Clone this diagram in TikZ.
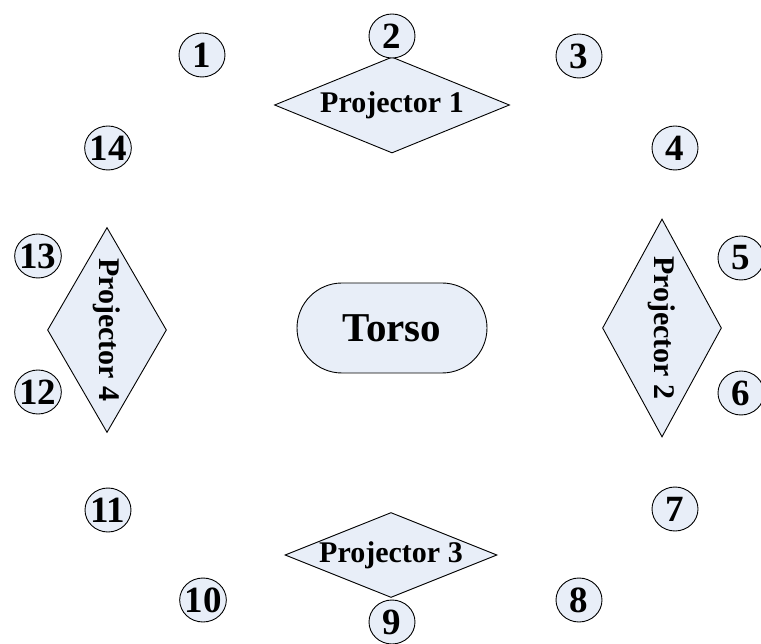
\documentclass[tikz,border=0pt]{standalone}
\usepackage{fontspec}
\setmainfont{Liberation Serif}
\usetikzlibrary{shapes.geometric}
\definecolor{rigfill}{HTML}{E8EEF8}
\tikzset{
  spotMark/.style={draw=black, fill=rigfill, ellipse, line width=0.9pt, inner ysep=0pt, inner xsep=-2pt,
    minimum width=46pt, minimum height=44pt, font=\fontsize{37}{37}\selectfont\bfseries},
  projBox/.style={draw=black, fill=rigfill, diamond, line width=0.9pt, inner sep=0pt,
    font=\fontsize{30}{30}\selectfont\bfseries},
  torsoBox/.style={draw=black, fill=rigfill, rectangle, rounded corners=45pt, line width=0.9pt,
    minimum width=190pt, minimum height=90pt, font=\fontsize{41}{41}\selectfont\bfseries}
}

\begin{document}
\begin{tikzpicture}[x=1pt,y=-1pt]
  \useasboundingbox (0,0) rectangle (761,644);
  % subject in the middle
  \node[torsoBox] (torso) at (392,328) {Torso};
  % the four projectors
  \node[projBox, aspect=2.45, minimum width=235pt, minimum height=96pt] (proj1) at (392,105) {Projector 1};
  \node[projBox, rotate=-90, aspect=1.83, minimum width=218pt, minimum height=119pt] (proj2) at (662,328) {Projector 2};
  \node[projBox, aspect=2.5, minimum width=212pt, minimum height=85pt] (proj3) at (391,555) {Projector 3};
  \node[projBox, rotate=-90, aspect=1.72, minimum width=205pt, minimum height=119pt] (proj4) at (107,330) {Projector 4};
  % camera spots round the ring
  \node[spotMark] (s1) at (202,55) {1};
  \node[spotMark] (s2) at (392,36) {2};
  \node[spotMark] (s3) at (579,56) {3};
  \node[spotMark] (s4) at (675,148) {4};
  \node[spotMark] (s5) at (741,258) {5};
  \node[spotMark] (s6) at (741,393) {6};
  \node[spotMark] (s7) at (675,509) {7};
  \node[spotMark] (s8) at (579,600) {8};
  \node[spotMark] (s9) at (392,622) {9};
  \node[spotMark] (s10) at (203,600) {10};
  \node[spotMark] (s11) at (108,510) {11};
  \node[spotMark] (s12) at (38,392) {12};
  \node[spotMark] (s13) at (38,256) {13};
  \node[spotMark] (s14) at (108,148) {14};
\end{tikzpicture}
\end{document}
